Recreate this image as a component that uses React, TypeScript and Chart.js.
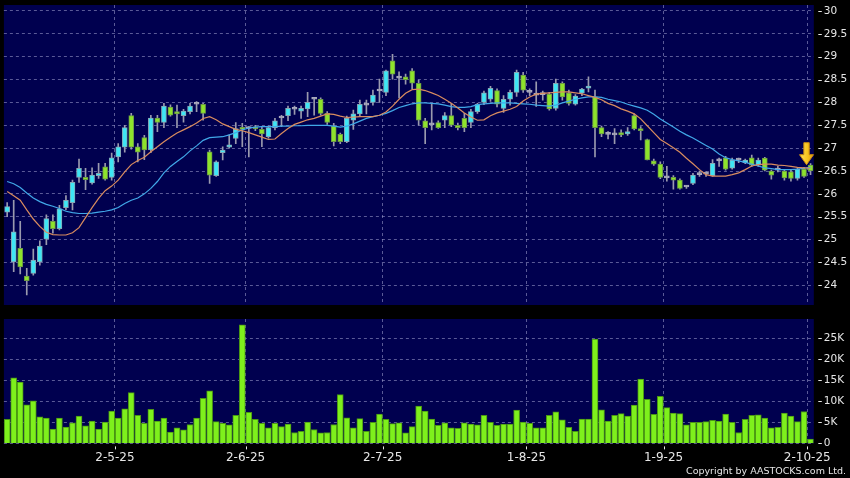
import { useEffect, useRef } from "react";
import { Chart, registerables } from "chart.js";

Chart.register(...registerables);

// ---- data ----
const OPEN = [
  25.60, 24.51, 24.81, 24.20, 24.26, 24.51, 25.01, 25.40, 25.24, 25.70,
  25.81, 26.36, 26.36, 26.24, 26.40, 26.59, 26.36, 26.81, 27.02, 27.71,
  27.03, 27.23, 26.96, 27.66, 27.56, 27.90, 27.80, 27.71, 27.80, 27.96,
  27.96, 26.92, 26.40, 26.90, 27.02, 27.21, 27.45, 27.43, 27.45, 27.41,
  27.25, 27.45, 27.66, 27.71, 27.85, 27.81, 27.86, 28.07, 28.07, 27.76,
  27.48, 27.30, 27.14, 27.61, 27.75, 27.94, 28.00, 28.25, 28.22, 28.91,
  28.53, 28.56, 28.69, 28.42, 27.60, 27.51, 27.56, 27.61, 27.71, 27.50,
  27.65, 27.56, 27.80, 28.00, 28.07, 28.26, 27.87, 28.07, 28.22, 28.60,
  28.22, 28.16, 28.17, 28.18, 27.87, 28.42, 28.21, 27.96, 28.20, 28.31,
  28.12, 27.45, 27.30, 27.29, 27.34, 27.31, 27.71, 27.43, 27.19, 26.72,
  26.65, 26.35, 26.36, 26.30, 26.15, 26.23, 26.42, 26.43, 26.40, 26.72,
  26.79, 26.56, 26.74, 26.68, 26.79, 26.63, 26.78, 26.50, 26.52, 26.50,
  26.48, 26.34, 26.54, 26.63,
];
const HIGH = [
  25.81, 25.86, 25.40, 24.37, 24.79, 24.97, 25.54, 25.54, 25.75, 25.96,
  26.30, 26.76, 26.56, 26.57, 26.67, 26.67, 26.89, 27.10, 27.50, 27.76,
  27.10, 27.28, 27.72, 27.72, 27.98, 27.95, 27.94, 27.85, 27.98, 28.02,
  27.98, 26.96, 26.72, 27.03, 27.29, 27.56, 27.54, 27.47, 27.50, 27.47,
  27.48, 27.65, 27.72, 27.92, 27.92, 27.92, 28.22, 28.10, 28.10, 27.80,
  27.54, 27.33, 27.70, 27.83, 28.05, 28.05, 28.27, 28.51, 28.71, 29.05,
  28.67, 28.62, 28.74, 28.49, 27.65, 27.98, 27.60, 27.78, 27.98, 27.55,
  27.76, 27.85, 27.98, 28.25, 28.35, 28.30, 28.15, 28.27, 28.71, 28.66,
  28.30, 28.45, 28.25, 28.22, 28.51, 28.45, 28.27, 28.17, 28.31, 28.56,
  28.27, 27.48, 27.36, 27.43, 27.40, 27.45, 27.75, 27.47, 27.20, 26.76,
  26.70, 26.60, 26.40, 26.33, 26.18, 26.45, 26.50, 26.48, 26.75, 26.78,
  26.82, 26.78, 26.78, 26.76, 26.85, 26.78, 26.80, 26.52, 26.60, 26.52,
  26.52, 26.56, 26.58, 26.66,
];
const LOW = [
  25.50, 24.30, 24.25, 23.79, 24.22, 24.44, 24.89, 25.14, 25.21, 25.65,
  25.65, 26.25, 26.09, 26.21, 26.34, 26.30, 26.30, 26.70, 26.91, 26.98,
  26.70, 26.75, 26.90, 27.36, 27.45, 27.70, 27.45, 27.57, 27.75, 27.80,
  27.61, 26.23, 26.38, 26.74, 27.00, 27.10, 27.03, 26.81, 27.38, 27.03,
  27.22, 27.40, 27.47, 27.60, 27.74, 27.65, 27.69, 27.72, 27.72, 27.52,
  27.05, 27.10, 27.12, 27.41, 27.70, 27.75, 27.94, 28.00, 28.15, 28.51,
  28.10, 28.40, 28.30, 27.50, 27.10, 27.40, 27.43, 27.45, 27.47, 27.40,
  27.36, 27.45, 27.76, 27.95, 28.02, 27.90, 27.78, 27.94, 28.13, 28.22,
  28.15, 27.91, 28.05, 27.83, 27.83, 28.05, 27.94, 27.94, 28.15, 28.23,
  26.81, 27.25, 27.20, 27.10, 27.25, 27.28, 27.40, 27.18, 26.74, 26.62,
  26.33, 26.28, 26.10, 26.10, 26.12, 26.20, 26.38, 26.38, 26.38, 26.60,
  26.52, 26.54, 26.68, 26.66, 26.60, 26.60, 26.50, 26.32, 26.48, 26.30,
  26.28, 26.30, 26.36, 26.42,
];
const CLOSE = [
  25.72, 25.17, 24.40, 24.10, 24.55, 24.86, 25.46, 25.24, 25.67, 25.86,
  26.25, 26.56, 26.31, 26.41, 26.45, 26.32, 26.79, 27.03, 27.45, 27.02,
  26.91, 26.96, 27.66, 27.56, 27.92, 27.72, 27.75, 27.81, 27.92, 27.96,
  27.76, 26.41, 26.70, 26.96, 27.07, 27.43, 27.41, 27.43, 27.42, 27.31,
  27.45, 27.60, 27.66, 27.87, 27.85, 27.87, 28.00, 28.07, 27.76, 27.56,
  27.14, 27.14, 27.65, 27.75, 27.96, 27.94, 28.16, 28.25, 28.69, 28.62,
  28.53, 28.50, 28.42, 27.61, 27.45, 27.51, 27.45, 27.71, 27.50, 27.45,
  27.45, 27.80, 27.96, 28.21, 28.31, 27.96, 28.07, 28.22, 28.66, 28.27,
  28.22, 28.16, 28.17, 27.86, 28.42, 28.12, 27.98, 28.14, 28.29, 28.36,
  27.45, 27.31, 27.30, 27.29, 27.29, 27.36, 27.42, 27.38, 26.74, 26.65,
  26.36, 26.35, 26.30, 26.12, 26.15, 26.41, 26.42, 26.43, 26.67, 26.72,
  26.54, 26.74, 26.74, 26.74, 26.63, 26.74, 26.52, 26.41, 26.52, 26.35,
  26.34, 26.54, 26.38, 26.50,
];
const MA_SHORT = [
  26.05, 25.96, 25.86, 25.65, 25.45, 25.29, 25.16, 25.11, 25.10, 25.10,
  25.15, 25.26, 25.48, 25.70, 25.90, 26.07, 26.17, 26.30, 26.48, 26.64,
  26.73, 26.80, 26.92, 27.03, 27.14, 27.24, 27.33, 27.40, 27.47, 27.55,
  27.65, 27.69, 27.62, 27.53, 27.47, 27.41, 27.38, 27.34, 27.29, 27.24,
  27.19, 27.20, 27.32, 27.43, 27.52, 27.57, 27.62, 27.65, 27.70, 27.75,
  27.74, 27.70, 27.67, 27.68, 27.69, 27.69, 27.69, 27.72, 27.79, 27.92,
  28.07, 28.20, 28.28, 28.29, 28.26, 28.21, 28.15, 28.07, 27.98, 27.88,
  27.77, 27.68, 27.61, 27.62, 27.71, 27.77, 27.81, 27.85, 27.91, 28.03,
  28.12, 28.18, 28.20, 28.21, 28.22, 28.23, 28.23, 28.21, 28.19, 28.15,
  28.11, 28.06, 27.98, 27.93, 27.86, 27.81, 27.75, 27.64, 27.49, 27.34,
  27.19, 27.10, 27.01, 26.91, 26.78, 26.66, 26.53, 26.42, 26.39, 26.39,
  26.39, 26.42, 26.46, 26.53, 26.61, 26.64, 26.65, 26.65, 26.63, 26.62,
  26.60, 26.58, 26.57, 26.56,
];
const MA_LONG = [
  26.27, 26.22, 26.14, 26.02, 25.91, 25.83, 25.77, 25.73, 25.68, 25.62,
  25.59, 25.57, 25.57, 25.58, 25.60, 25.62, 25.65, 25.70, 25.79, 25.86,
  25.91, 26.00, 26.12, 26.27, 26.46, 26.60, 26.71, 26.81, 26.94, 27.05,
  27.17, 27.23, 27.24, 27.25, 27.29, 27.34, 27.40, 27.44, 27.46, 27.47,
  27.47, 27.47, 27.48, 27.48, 27.49, 27.49, 27.50, 27.50, 27.50, 27.50,
  27.48, 27.46, 27.48, 27.53, 27.59, 27.65, 27.69, 27.72, 27.76, 27.82,
  27.89, 27.93, 27.97, 27.99, 27.99, 27.98, 27.97, 27.94, 27.91, 27.89,
  27.89, 27.91, 27.95, 27.97, 27.98, 27.99, 27.99, 27.99, 27.98, 27.97,
  27.96, 27.94, 27.93, 27.92, 27.94, 27.99, 28.03, 28.07, 28.10, 28.12,
  28.12, 28.11, 28.07, 28.04, 28.01, 27.96, 27.92, 27.88, 27.83, 27.74,
  27.64, 27.55, 27.46, 27.37, 27.29, 27.22, 27.14, 27.06, 26.98, 26.87,
  26.79, 26.75, 26.72, 26.69, 26.65, 26.61, 26.57, 26.55, 26.53, 26.53,
  26.53, 26.54, 26.56, 26.58,
];
const VOLUME = [
  5700, 15600, 14600, 9200, 10100, 6300, 6000, 3400, 6000, 3900,
  4900, 6500, 4200, 5300, 3400, 5100, 7700, 6000, 8200, 12100,
  6700, 4800, 8100, 5300, 6000, 2700, 3700, 3200, 4500, 6000,
  10700, 12500, 5200, 4800, 4400, 6700, 28200, 7400, 5700, 4800,
  3700, 4800, 4000, 4600, 2600, 2900, 5100, 3300, 2500, 2600,
  4500, 11600, 6100, 3700, 5900, 2900, 5000, 7000, 5700, 4700,
  4900, 2500, 4000, 8900, 7700, 5800, 4300, 4900, 3700, 3600,
  4900, 4600, 4400, 6700, 5000, 4300, 4600, 4600, 7900, 5100,
  4800, 3700, 3700, 6700, 7500, 5600, 3800, 2900, 5800, 5800,
  24800, 8000, 5300, 6700, 7100, 6500, 9100, 15300, 10500, 6900,
  11200, 8500, 7200, 7100, 4400, 5000, 5000, 5200, 5500, 5300,
  7000, 5000, 2600, 5700, 6700, 6800, 6000, 3700, 3800, 7200,
  6500, 5200, 7600, 1000,
];
const DATE_TICK_INDEX = [17, 37, 58, 80, 101, 123];
const DATE_TICK_LABELS = ["2-5-25", "2-6-25", "2-7-25", "1-8-25", "1-9-25", "2-10-25"];
const PRICE_TICKS = [24, 24.5, 25, 25.5, 26, 26.5, 27, 27.5, 28, 28.5, 29, 29.5, 30];
const VOLUME_TICKS = [0, 5000, 10000, 15000, 20000, 25000];

// ---- styles ----
const FONT = "'DejaVu Sans', Verdana, sans-serif";
const NAVY = "#00004f";
const GRID = "rgba(150,150,200,0.6)";
const TEXT = "#e6e6e6";
const UP_FILL = "#3ee6f5";
const UP_EDGE = "#86a7b4";
const DOWN_FILL = "#8ee32c";
const DOWN_EDGE = "#6b9a45";
const DOJI = "#a9a9bb";
const WICK = "#9a9aae";
const VOL_FILL = "#7ef01c";
const VOL_EDGE = "#4a9614";
const MA_SHORT_COLOR = "#d98c5f";
const MA_LONG_COLOR = "#41a8e8";

const W = 850;
const TOP_H = 312;
const BOT_H = 166;
const AXIS_W = 36.2;
const PAD_LEFT = 3.9;
const N = CLOSE.length;

const plotBg = {
  id: "plotBg",
  beforeDraw(chart: any) {
    const { ctx, chartArea } = chart;
    ctx.save();
    ctx.fillStyle = NAVY;
    ctx.fillRect(chartArea.left, chartArea.top, chartArea.right - chartArea.left, chartArea.bottom - chartArea.top);
    ctx.restore();
  },
};

const yDashes = {
  id: "yDashes",
  afterDraw(chart: any) {
    const { ctx, chartArea, scales } = chart;
    const ys = scales.y;
    ctx.save();
    ctx.strokeStyle = TEXT;
    ctx.lineWidth = 1;
    ys.ticks.forEach((t: any) => {
      const py = Math.round(ys.getPixelForValue(t.value)) + 0.5;
      ctx.beginPath();
      ctx.moveTo(chartArea.right + 4.5, py);
      ctx.lineTo(chartArea.right + 8, py);
      ctx.stroke();
    });
    ctx.restore();
  },
};

const arrowMark = {
  id: "arrowMark",
  afterDatasetsDraw(chart: any) {
    const { ctx, scales } = chart;
    const last = N - 1;
    const cx = scales.x.getPixelForValue(last) - 4;
    const tip = scales.y.getPixelForValue(HIGH[last]) + 1;
    ctx.save();
    ctx.beginPath();
    ctx.moveTo(cx - 2.7, tip - 22);
    ctx.lineTo(cx + 2.7, tip - 22);
    ctx.lineTo(cx + 2.7, tip - 10);
    ctx.lineTo(cx + 7, tip - 10);
    ctx.lineTo(cx, tip);
    ctx.lineTo(cx - 7, tip - 10);
    ctx.lineTo(cx - 2.7, tip - 10);
    ctx.closePath();
    const g = ctx.createLinearGradient(cx - 7, 0, cx + 7, 0);
    g.addColorStop(0, "#ffe25a");
    g.addColorStop(0.6, "#f7c21a");
    g.addColorStop(1, "#e09a10");
    ctx.fillStyle = g;
    ctx.fill();
    ctx.strokeStyle = "#c98a10";
    ctx.lineWidth = 1;
    ctx.stroke();
    ctx.restore();
  },
};

const xTickMarks = {
  id: "xTickMarks",
  afterDraw(chart: any) {
    const { ctx, chartArea, scales } = chart;
    ctx.save();
    ctx.strokeStyle = TEXT;
    ctx.lineWidth = 1;
    scales.x.ticks.forEach((t: any) => {
      const px = Math.round(scales.x.getPixelForValue(t.value)) + 0.5;
      ctx.beginPath();
      ctx.moveTo(px, chartArea.bottom + 3);
      ctx.lineTo(px, chartArea.bottom + 6);
      ctx.stroke();
    });
    ctx.fillStyle = TEXT;
    ctx.font = `9.5px ${FONT}`;
    ctx.textAlign = "right";
    ctx.textBaseline = "middle";
    ctx.fillText("Copyright by AASTOCKS.com Ltd.", 846, 159.5);
    ctx.restore();
  },
};

function candleColor(i: number, up: string, down: string) {
  if (CLOSE[i] > OPEN[i]) return up;
  if (CLOSE[i] < OPEN[i]) return down;
  return DOJI;
}

function xScale(showLabels: boolean) {
  return {
    type: "linear",
    min: -0.5,
    max: N - 0.5,
    offset: false,
    afterBuildTicks: (scale: any) => {
      scale.ticks = DATE_TICK_INDEX.map((v) => ({ value: v - 0.5 }));
    },
    afterFit: (scale: any) => {
      scale.height = showLabels ? 20 : 0;
      scale.paddingLeft = 0;
      scale.paddingRight = 0;
      scale.paddingTop = 0;
      scale.paddingBottom = 0;
    },
    grid: { color: GRID, lineWidth: 1, drawTicks: false, offset: false },
    border: { display: false, dash: [3, 3] },
    ticks: {
      display: showLabels,
      autoSkip: false,
      maxRotation: 0,
      padding: 7,
      color: TEXT,
      font: { family: FONT, size: 12 },
      callback: (_v: any, idx: number) => DATE_TICK_LABELS[idx],
    },
  };
}

function yScale(min: number, max: number, ticks: number[], fmt: (v: number) => string) {
  return {
    position: "right",
    min,
    max,
    afterBuildTicks: (scale: any) => {
      scale.ticks = ticks.map((v) => ({ value: v }));
    },
    afterFit: (scale: any) => {
      scale.width = AXIS_W;
      scale.paddingTop = 0;
      scale.paddingBottom = 0;
      scale.paddingLeft = 0;
      scale.paddingRight = 0;
    },
    grid: { color: GRID, lineWidth: 1, drawTicks: false },
    border: { display: false, dash: [3, 3] },
    ticks: {
      padding: 10,
      color: TEXT,
      font: { family: FONT, size: 10.5 },
      callback: (v: any) => fmt(Number(v)),
    },
  };
}

export default function App() {
  const priceRef = useRef<HTMLCanvasElement>(null);
  const volRef = useRef<HTMLCanvasElement>(null);

  useEffect(() => {
    const idx = CLOSE.map((_, i) => i);
    const price = new Chart(priceRef.current as HTMLCanvasElement, {
      type: "bar",
      data: {
        datasets: [
          {
            type: "line",
            data: idx.map((i) => ({ x: i, y: MA_SHORT[i] })),
            borderColor: MA_SHORT_COLOR,
            borderWidth: 1.2,
            pointRadius: 0,
            tension: 0,
            order: 0,
          },
          {
            type: "line",
            data: idx.map((i) => ({ x: i, y: MA_LONG[i] })),
            borderColor: MA_LONG_COLOR,
            borderWidth: 1.2,
            pointRadius: 0,
            tension: 0,
            order: 0,
          },
          {
            type: "bar",
            data: idx.map((i) => ({ x: i, y: [OPEN[i], CLOSE[i]] })),
            backgroundColor: (c: any) => candleColor(c.dataIndex, UP_FILL, DOWN_FILL),
            borderColor: (c: any) => candleColor(c.dataIndex, UP_EDGE, DOWN_EDGE),
            borderWidth: 1,
            borderSkipped: false,
            barThickness: 5,
            minBarLength: 2,
            grouped: false,
            order: 1,
          },
          {
            type: "bar",
            data: idx.map((i) => ({ x: i, y: [LOW[i], HIGH[i]] })),
            backgroundColor: WICK,
            borderWidth: 0,
            barThickness: 1,
            grouped: false,
            order: 2,
          },
        ],
      } as any,
      options: {
        responsive: false,
        animation: false,
        events: [],
        layout: { padding: { left: PAD_LEFT, top: 5, right: 0, bottom: 7 } },
        plugins: { legend: { display: false }, tooltip: { enabled: false } },
        scales: {
          x: xScale(false),
          y: yScale(23.569, 30.131, PRICE_TICKS, (v) => String(v)),
        } as any,
      },
      plugins: [plotBg, yDashes, arrowMark],
    });

    const vol = new Chart(volRef.current as HTMLCanvasElement, {
      type: "bar",
      data: {
        datasets: [
          {
            data: idx.map((i) => ({ x: i, y: VOLUME[i] })),
            backgroundColor: VOL_FILL,
            borderColor: VOL_EDGE,
            borderWidth: 1,
            barThickness: 6,
            grouped: false,
          },
        ],
      } as any,
      options: {
        responsive: false,
        animation: false,
        events: [],
        layout: { padding: { left: PAD_LEFT, top: 7, right: 0, bottom: 14.6 } },
        plugins: { legend: { display: false }, tooltip: { enabled: false } },
        scales: {
          x: xScale(true),
          y: yScale(0, 29600, VOLUME_TICKS, (v) => (v === 0 ? "0" : `${v / 1000}K`)),
        } as any,
      },
      plugins: [plotBg, yDashes, xTickMarks],
    });

    return () => {
      price.destroy();
      vol.destroy();
    };
  }, []);

  return (
    <div style={{ position: "fixed", left: 0, top: 0, width: W, height: TOP_H + BOT_H, background: "#000", overflow: "hidden" }}>
      <canvas ref={priceRef} width={W} height={TOP_H} style={{ position: "absolute", left: 0, top: 0, width: W, height: TOP_H }} />
      <canvas ref={volRef} width={W} height={BOT_H} style={{ position: "absolute", left: 0, top: TOP_H, width: W, height: BOT_H }} />
    </div>
  );
}
